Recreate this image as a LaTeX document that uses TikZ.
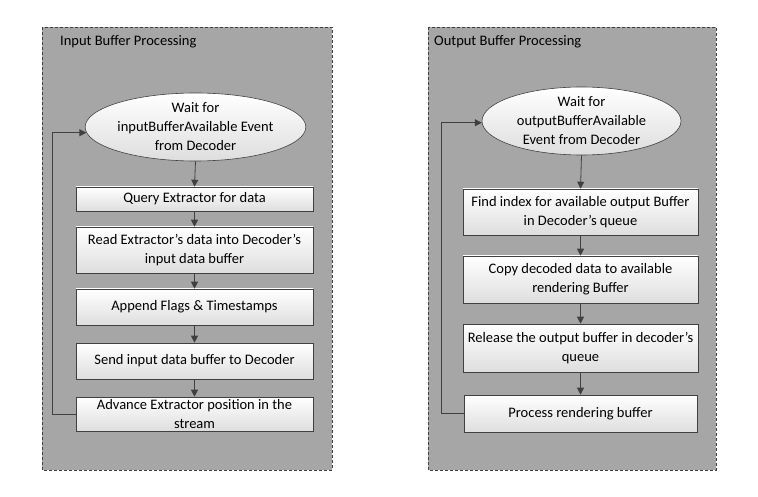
\documentclass[tikz,border=0pt]{standalone}
\usepackage{fontspec}
\setmainfont{Carlito}
\usetikzlibrary{shapes.geometric,arrows.meta}
\definecolor{panelgray}{RGB}{166,166,166}
\definecolor{linegray}{RGB}{64,64,64}
\begin{document}
\begin{tikzpicture}[x=1pt,y=-1pt,
  font=\fontsize{14.5}{19}\selectfont,
  panel/.style={draw=linegray,dash pattern=on 3pt off 2pt,fill=panelgray,line width=0.7pt},
  stepbox/.style={draw=linegray,rectangle,top color=white,bottom color=black!13,align=center,inner sep=1pt,line width=0.6pt},
  waitell/.style={draw=linegray,ellipse,top color=white,bottom color=black!13,align=center,inner sep=0pt,line width=0.6pt},
  flow/.style={draw=linegray,line width=0.8pt,-{Triangle[length=7pt,width=7pt]}},
  ttl/.style={anchor=west,inner sep=0pt}]
\useasboundingbox (0,0) rectangle (758,497);
\fill[white] (0,0) rectangle (758,497);
% left panel
\draw[panel] (42,27) rectangle (332,470);
\node[ttl] (ltitle) at (60,42) {Input Buffer Processing};
\node[waitell,minimum width=199pt,minimum height=68pt] (lwait) at (195.5,127) {Wait for\\inputBufferAvailable Event\\from Decoder};
\node[stepbox,minimum width=237pt,minimum height=24pt] (lq) at (194.5,199) {Query Extractor for data};
\node[stepbox,minimum width=237pt,minimum height=46pt] (lr) at (194.5,250) {Read Extractor’s data into Decoder’s\\input data buffer};
\node[stepbox,minimum width=237pt,minimum height=36pt] (la) at (194.5,307) {Append Flags \& Timestamps};
\node[stepbox,minimum width=237pt,minimum height=36pt] (ls) at (194.5,361) {Send input data buffer to Decoder};
\node[stepbox,minimum width=237pt,minimum height=34pt] (lad) at (194.5,414) {Advance Extractor position in the\\stream};
\draw[flow] (lwait.south) -- (lq.north);
\draw[flow] (lq) -- (lr);
\draw[flow] (lr) -- (la);
\draw[flow] (la) -- (ls);
\draw[flow] (ls) -- (lad);
\coordinate (lback) at (52.7,414);
\draw[flow] (lad.west) -- (lback) |- (lwait.183);
% right panel
\draw[panel] (428,27) rectangle (716,470);
\node[ttl] (rtitle) at (434,42) {Output Buffer Processing};
\node[waitell,minimum width=199pt,minimum height=55pt] (rwait) at (581.5,121) {Wait for\\outputBufferAvailable\\Event from Decoder};
\node[stepbox,minimum width=235pt,minimum height=46pt] (rf) at (580.5,212) {Find index for available output Buffer\\in Decoder’s queue};
\node[stepbox,minimum width=235pt,minimum height=47pt] (rc) at (580.5,279.5) {Copy decoded data to available\\rendering Buffer};
\node[stepbox,minimum width=235pt,minimum height=48pt] (rrel) at (580.5,348) {Release the output buffer in decoder’s\\queue};
\node[stepbox,minimum width=233pt,minimum height=37pt] (rp) at (580.5,413.5) {Process rendering buffer};
\draw[flow] (rwait.south) -- (rf.north);
\draw[flow] (rf) -- (rc);
\draw[flow] (rc) -- (rrel);
\draw[flow] (rrel) -- (rp);
\coordinate (rback) at (441,413.5);
\draw[flow] (rp.west) -- (rback) |- (rwait.181);
\end{tikzpicture}
\end{document}
